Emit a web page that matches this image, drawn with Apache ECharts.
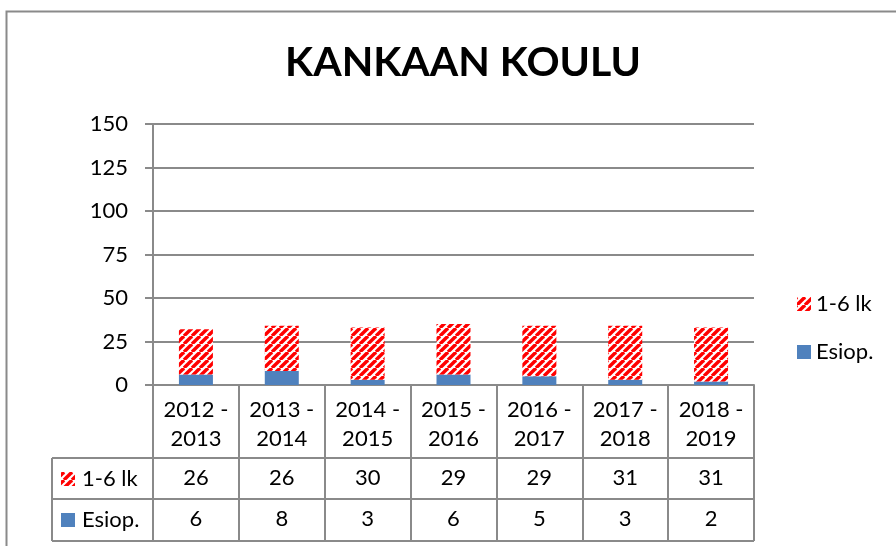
<!DOCTYPE html>
<html><head><meta charset="utf-8">
<script src="https://cdn.jsdelivr.net/npm/echarts@6/dist/echarts.min.js"></script>
<style>html,body{margin:0;padding:0;background:#fff}#c{width:896px;height:546px}</style>
</head><body><div id="c"></div>
<script>
const categories = ['2012 -\n2013','2013 -\n2014','2014 -\n2015','2015 -\n2016','2016 -\n2017','2017 -\n2018','2018 -\n2019'];
const lk = [26, 26, 30, 29, 29, 31, 31];
const esiop = [6, 8, 3, 6, 5, 3, 2];
const yTicks = [0, 25, 50, 75, 100, 125, 150];
const seriesNames = ['1-6 lk', 'Esiop.'];

const FONT = 'Lato';
const GRAY = '#8a8a8a';

function makeHatch(){
  const s = 7.4;
  const n = 8;
  const c = document.createElement('canvas');
  c.width = n; c.height = n;
  const ctx = c.getContext('2d');
  ctx.fillStyle = '#fff'; ctx.fillRect(0,0,n,n);
  ctx.strokeStyle = '#ff0000'; ctx.lineWidth = 3.4;
  for (let k=-1;k<=1;k++){ ctx.beginPath(); ctx.moveTo(k*n, n); ctx.lineTo(k*n+n, 0); ctx.stroke(); }
  return c;
}
const hatch = {image: makeHatch(), repeat: 'repeat'};
const BLUE = '#4f81bd';

const chart = echarts.init(document.getElementById('c'));
const gridLeft = 153, gridRight = 754, gridTop = 124, gridBottom = 385;
const row1 = 458, row2 = 499, row3 = 541, tableLeft = 52;

const option = {
  animation: false,
  title: {text: 'KANKAAN KOULU', left: 458, textAlign: 'center', top: 37,
    textStyle: {fontFamily: FONT, fontWeight: 'bold', fontSize: 41, color: '#000'}},
  legend: {orient: 'vertical', left: 792, top: 288, itemWidth: 14, itemHeight: 14, itemGap: 26,
    data: seriesNames, textStyle: {fontFamily: FONT, fontSize: 22, color: '#000'}, icon: 'rect'},
  grid: {left: gridLeft, right: 896 - gridRight, top: gridTop, bottom: 546 - gridBottom},
  xAxis: [
    {type: 'category', data: categories,
     axisLine: {lineStyle: {color: GRAY, width: 2}},
     axisTick: {show: true, length: row3 - gridBottom, lineStyle: {color: GRAY, width: 2}},
     axisLabel: {margin: 10, fontFamily: FONT, fontSize: 22, color: '#000', lineHeight: 29, interval: 0}},
    {type: 'category', data: lk.map(String), position: 'bottom', offset: row1 - gridBottom,
     axisLine: {show: false}, axisTick: {show: false},
     axisLabel: {margin: 9, fontFamily: FONT, fontSize: 22, color: '#000', interval: 0}},
    {type: 'category', data: esiop.map(String), position: 'bottom', offset: row2 - gridBottom,
     axisLine: {show: false}, axisTick: {show: false},
     axisLabel: {margin: 9, fontFamily: FONT, fontSize: 22, color: '#000', interval: 0}}
  ],
  yAxis: {type: 'value', min: yTicks[0], max: yTicks[yTicks.length-1], interval: yTicks[1]-yTicks[0],
    axisLine: {show: true, lineStyle: {color: GRAY, width: 2}},
    axisTick: {show: true, length: 8, lineStyle: {color: GRAY, width: 2}},
    splitLine: {lineStyle: {color: GRAY, width: 2}},
    axisLabel: {margin: 25, fontFamily: FONT, fontSize: 22, color: '#000'}},
  series: [
    {name: 'Esiop.', type: 'bar', stack: 's', data: esiop, barWidth: 34, itemStyle: {color: BLUE}},
    {name: '1-6 lk', type: 'bar', stack: 's', data: lk, barWidth: 34, itemStyle: {color: hatch}}
  ],
  graphic: [
    {type: 'rect', shape: {x: 6.5, y: 11.5, width: 950, height: 700}, style: {fill: 'none', stroke: GRAY, lineWidth: 2}, silent: true},
    {type: 'line', shape: {x1: tableLeft, y1: row1, x2: gridRight, y2: row1}, style: {stroke: GRAY, lineWidth: 2}},
    {type: 'line', shape: {x1: tableLeft, y1: row2, x2: gridRight, y2: row2}, style: {stroke: GRAY, lineWidth: 2}},
    {type: 'line', shape: {x1: tableLeft, y1: row3, x2: gridRight, y2: row3}, style: {stroke: GRAY, lineWidth: 2}},
    {type: 'line', shape: {x1: tableLeft, y1: row1, x2: tableLeft, y2: row3}, style: {stroke: GRAY, lineWidth: 2}},
    {type: 'rect', shape: {x: 61, y: 472, width: 14, height: 14}, style: {fill: hatch}},
    {type: 'text', x: 82, y: 479, style: {text: seriesNames[0], fontFamily: FONT, fontSize: 22, fill: '#000', verticalAlign: 'middle'}},
    {type: 'rect', shape: {x: 61, y: 513, width: 14, height: 14}, style: {fill: BLUE}},
    {type: 'text', x: 82, y: 520, style: {text: seriesNames[1], fontFamily: FONT, fontSize: 22, fill: '#000', verticalAlign: 'middle'}}
  ]
};
chart.setOption(option);
</script></body></html>
